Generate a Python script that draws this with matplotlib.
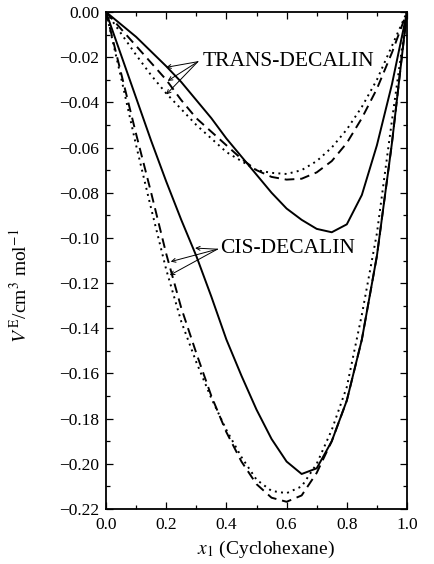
import matplotlib
matplotlib.use("Agg")
import matplotlib.pyplot as plt
from matplotlib.ticker import MultipleLocator

plt.rcParams['font.family'] = ['Liberation Serif', 'DejaVu Serif']
plt.rcParams['mathtext.fontset'] = 'stix'

# composition grid (x1, cyclohexane mole fraction)
x_grid = [0.0, 0.05, 0.1, 0.15, 0.2, 0.25, 0.3, 0.35, 0.4, 0.45, 0.5,
          0.55, 0.6, 0.65, 0.7, 0.75, 0.8, 0.85, 0.9, 0.95, 1.0]

# trans-decalin curves
trans_solid = [0, -0.0055, -0.011, -0.0175, -0.024, -0.031, -0.039, -0.047, -0.056, -0.064, -0.072,
               -0.080, -0.087, -0.092, -0.096, -0.0975, -0.094, -0.081, -0.059, -0.032, 0]
trans_dashed = [0, -0.0075, -0.015, -0.0225, -0.030, -0.039, -0.047, -0.053, -0.059, -0.065, -0.070,
                -0.073, -0.0742, -0.0738, -0.071, -0.066, -0.058, -0.047, -0.034, -0.018, 0]
trans_dotted = [0, -0.0095, -0.019, -0.028, -0.036, -0.043, -0.050, -0.056, -0.062, -0.066, -0.070,
                -0.0712, -0.0717, -0.070, -0.066, -0.060, -0.052, -0.042, -0.030, -0.015, 0]

# cis-decalin curves
cis_solid = [0, -0.019, -0.038, -0.057, -0.075, -0.092, -0.108, -0.126, -0.145, -0.161, -0.176,
             -0.189, -0.199, -0.2045, -0.202, -0.190, -0.172, -0.145, -0.108, -0.058, 0]
cis_dashed = [0, -0.027, -0.054, -0.080, -0.107, -0.131, -0.151, -0.170, -0.186, -0.199, -0.209,
              -0.215, -0.2168, -0.214, -0.204, -0.190, -0.172, -0.145, -0.108, -0.058, 0]
cis_dotted = [0, -0.029, -0.059, -0.087, -0.114, -0.137, -0.155, -0.171, -0.185, -0.197, -0.207,
              -0.212, -0.213, -0.210, -0.200, -0.185, -0.166, -0.134, -0.098, -0.048, 0]

y_ticks = [0.0, -0.02, -0.04, -0.06, -0.08, -0.10, -0.12, -0.14, -0.16, -0.18, -0.20, -0.22]
y_tick_labels = ["0.00", "\u22120.02", "\u22120.04", "\u22120.06", "\u22120.08", "\u22120.10",
                 "\u22120.12", "\u22120.14", "\u22120.16", "\u22120.18", "\u22120.20", "\u22120.22"]
x_ticks = [0.0, 0.2, 0.4, 0.6, 0.8, 1.0]
x_tick_labels = ["0.0", "0.2", "0.4", "0.6", "0.8", "1.0"]

trans_label = "TRANS-DECALIN"
cis_label = "CIS-DECALIN"
trans_text_pos = (0.322, -0.022)
trans_arrow_start = (0.305, -0.022)
trans_targets = [(0.200, -0.0245), (0.205, -0.0305), (0.200, -0.0365)]
cis_text_pos = (0.379, -0.1045)
cis_arrow_start = (0.370, -0.1050)
cis_targets = [(0.296, -0.1045), (0.215, -0.1105), (0.212, -0.1165)]

fig = plt.figure(figsize=(4.35, 5.64), dpi=100)
ax = fig.add_axes([106/435, 1 - 509/564, 301/435, 497/564])

lw = 1.4
ax.plot(x_grid, trans_solid, color='black', lw=lw, ls='-')
ax.plot(x_grid, trans_dashed, color='black', lw=lw, ls=(0, (5, 3)))
ax.plot(x_grid, trans_dotted, color='black', lw=lw, ls=(0, (1, 2.2)))
ax.plot(x_grid, cis_solid, color='black', lw=lw, ls='-')
ax.plot(x_grid, cis_dashed, color='black', lw=lw, ls=(0, (5, 3)))
ax.plot(x_grid, cis_dotted, color='black', lw=lw, ls=(0, (1, 2.2)))

ax.text(trans_text_pos[0], trans_text_pos[1], trans_label, fontsize=15.5, va='center', ha='left')
ax.text(cis_text_pos[0], cis_text_pos[1], cis_label, fontsize=15.5, va='center', ha='left')
for t in trans_targets:
    ax.annotate('', xy=t, xytext=trans_arrow_start,
                arrowprops=dict(arrowstyle='->', lw=0.7, color='black',
                                shrinkA=0, shrinkB=0, mutation_scale=7))
for t in cis_targets:
    ax.annotate('', xy=t, xytext=cis_arrow_start,
                arrowprops=dict(arrowstyle='->', lw=0.7, color='black',
                                shrinkA=0, shrinkB=0, mutation_scale=7))

ax.set_xlim(0.0, 1.0)
ax.set_ylim(-0.22, 0.0)
ax.set_xticks(x_ticks)
ax.set_xticklabels(x_tick_labels)
ax.set_yticks(y_ticks)
ax.set_yticklabels(y_tick_labels)
ax.xaxis.set_minor_locator(MultipleLocator(0.1))
ax.yaxis.set_minor_locator(MultipleLocator(0.01))
ax.tick_params(which='both', direction='in', top=True, right=True, labelsize=12.5, width=0.9)
ax.tick_params(which='major', length=5)
ax.tick_params(which='minor', length=3)
ax.tick_params(axis='x', pad=6)
ax.tick_params(axis='y', pad=5)
for s in ax.spines.values():
    s.set_linewidth(1.3)

ax.set_ylabel(r"$V^{\,\mathrm{E}}$/cm$^{3}$ mol$^{-1}$", fontsize=14)
ax.yaxis.set_label_coords(-0.25, 0.45)
ax.set_xlabel(r"$x_1$ (Cyclohexane)", fontsize=14)
ax.xaxis.set_label_coords(0.53, -0.06)

fig.savefig("out.png", dpi=100)
